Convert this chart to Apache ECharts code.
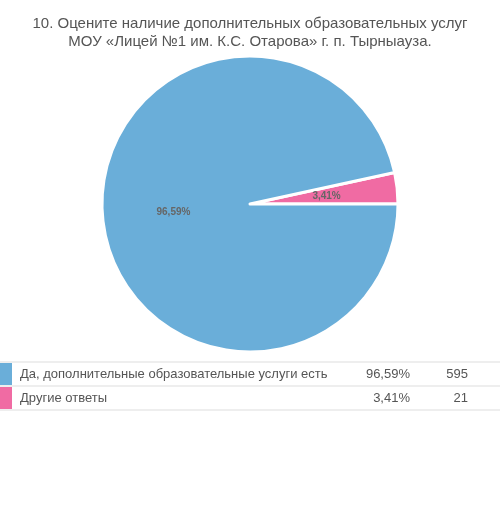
<!DOCTYPE html>
<html><head><meta charset="utf-8">
<script src="https://cdn.jsdelivr.net/npm/echarts@6/dist/echarts.min.js"></script>
<style>body{margin:0}#c{width:500px;height:520px}</style>
</head><body><div id="c"></div>
<script>
var titleLines = ['10. Оцените наличие дополнительных образовательных услуг', 'МОУ «Лицей №1 им. К.С. Отарова» г. п. Тырныауза.']
var names = ['Да, дополнительные образовательные услуги есть', 'Другие ответы']
var percents = [96.59, 3.41]
var counts = [595, 21]
var colors = ['#6aaed9', '#f06ba3']

var chart = echarts.init(document.getElementById('c'))

function fmt(v){ return v.toFixed(2).replace('.', ',') + '%' }

// таблица-легенда под диаграммой
var graphic = []
var top0 = 362, rowH = 24
graphic.push({type:'line', shape:{x1:0,y1:top0,x2:500,y2:top0}, style:{stroke:'#ddd',lineWidth:1}})
names.forEach(function(n, i){
    var y = top0 + i*rowH
    graphic.push({type:'rect', shape:{x:0,y:y+1,width:12,height:rowH-2}, style:{fill:colors[i]}})
    graphic.push({type:'text', x:20, y:y+rowH/2, style:{text:n, fill:'#555', font:'13px Arial', verticalAlign:'middle'}})
    graphic.push({type:'text', x:410, y:y+rowH/2, style:{text:fmt(percents[i]), fill:'#555', font:'13px Arial', align:'right', verticalAlign:'middle'}})
    graphic.push({type:'text', x:468, y:y+rowH/2, style:{text:String(counts[i]), fill:'#555', font:'13px Arial', align:'right', verticalAlign:'middle'}})
    graphic.push({type:'line', shape:{x1:0,y1:y+rowH,x2:500,y2:y+rowH}, style:{stroke:'#ddd',lineWidth:1}})
})

var option = {
    animation: false,
    title: {
        text: titleLines.join('\n'),
        left: 'center', top: 10,
        textStyle: {color:'#555', fontSize:15, fontWeight:'normal', fontFamily:'Arial', lineHeight:18}
    },
    graphic: graphic,
    series: [{
        type: 'pie',
        center: [250, 204],
        radius: 148,
        startAngle: 0,
        clockwise: false,
        silent: true,
        data: [
            {name: names[1], value: percents[1], itemStyle:{color:colors[1]}},
            {name: names[0], value: percents[0], itemStyle:{color:colors[0]}}
        ],
        itemStyle: {borderColor:'#fff', borderWidth:3},
        label: {
            position: 'inside',
            formatter: function(p){ return fmt(p.value) },
            color: '#666', fontSize: 10, fontWeight: 'bold', fontFamily: 'Arial'
        },
        labelLine: {show:false}
    }]
}
chart.setOption(option)
</script></body></html>
